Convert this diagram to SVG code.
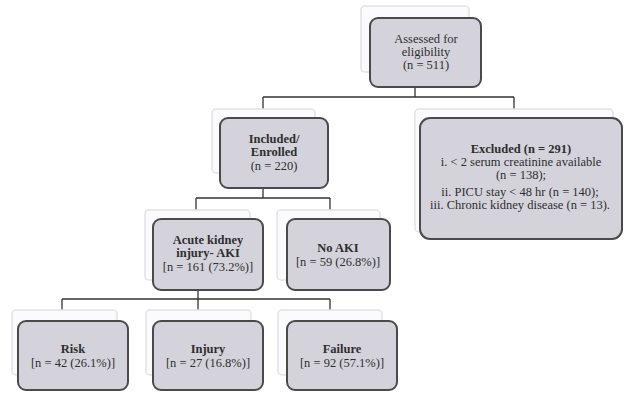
<svg xmlns="http://www.w3.org/2000/svg" width="624" height="395" viewBox="0 0 624 395">
<style>
.back{fill:#fbfbfd;stroke:#e2e2e6;stroke-width:1.5}
.front{fill:#d4d3dc;stroke:#4a4a4a;stroke-width:2}
.t{font-family:"Liberation Serif","Times New Roman",serif;font-size:12.5px;fill:#2e2e2e;text-anchor:middle}
.b{font-weight:bold}
.c{fill:none;stroke:#333;stroke-width:1.3}
</style>
<rect width="624" height="395" fill="#ffffff"/>
<g id="connectors">
<path class="c" d="M415 87V97M263 97H514M263 97V109M514 97V109"/>
<path class="c" d="M263 188V198M196 198H330M196 198V210M330 198V210"/>
<path class="c" d="M198 290V299M62 299H330M62 299V310M198 299V310M330 299V310"/>
</g>
<g id="assessed">
<rect class="back" x="361" y="6" width="108" height="66" rx="4"/>
<rect class="front" x="370" y="18" width="111" height="69" rx="8"/>
<text class="t" x="426" y="43">Assessed for</text>
<text class="t" x="426" y="56">eligibility</text>
<text class="t" x="426" y="69">(n = 511)</text>
</g>
<g id="included">
<rect class="back" x="212" y="109" width="103" height="64" rx="4"/>
<rect class="front" x="220" y="118" width="108" height="70" rx="8"/>
<text class="t b" x="274" y="143">Included/</text>
<text class="t b" x="274" y="156">Enrolled</text>
<text class="t" x="274" y="170">(n = 220)</text>
</g>
<g id="excluded">
<rect class="back" x="415" y="109" width="198" height="123" rx="4"/>
<rect class="front" x="420" y="118" width="202" height="121" rx="10"/>
<text class="t b" x="521" y="153">Excluded (n = 291)</text>
<text class="t" x="521" y="166">i. &lt; 2 serum creatinine available</text>
<text class="t" x="521" y="179">(n = 138);</text>
<text class="t" x="520" y="196">ii. PICU stay &lt; 48 hr (n = 140);</text>
<text class="t" x="520" y="209">iii. Chronic kidney disease (n = 13).</text>
</g>
<g id="aki">
<rect class="back" x="145" y="210" width="105" height="70" rx="4"/>
<rect class="front" x="153" y="219" width="110" height="71" rx="8"/>
<text class="t b" x="208" y="244">Acute kidney</text>
<text class="t b" x="208" y="257">injury- AKI</text>
<text class="t" x="208" y="271">[n = 161 (73.2%)]</text>
</g>
<g id="noaki">
<rect class="back" x="277" y="210" width="103" height="70" rx="4"/>
<rect class="front" x="287" y="219" width="103" height="71" rx="8"/>
<text class="t b" x="338" y="252">No AKI</text>
<text class="t" x="338" y="266">[n = 59 (26.8%)]</text>
</g>
<g id="risk">
<rect class="back" x="12" y="310" width="105" height="65" rx="4"/>
<rect class="front" x="18" y="321" width="110" height="69" rx="8"/>
<text class="t b" x="73" y="353">Risk</text>
<text class="t" x="73" y="367">[n = 42 (26.1%)]</text>
</g>
<g id="injury">
<rect class="back" x="146" y="310" width="105" height="65" rx="4"/>
<rect class="front" x="153" y="321" width="110" height="69" rx="8"/>
<text class="t b" x="208" y="353">Injury</text>
<text class="t" x="208" y="367">[n = 27 (16.8%)]</text>
</g>
<g id="failure">
<rect class="back" x="278" y="310" width="104" height="65" rx="4"/>
<rect class="front" x="287" y="321" width="110" height="69" rx="8"/>
<text class="t b" x="342" y="353">Failure</text>
<text class="t" x="342" y="367">[n = 92 (57.1%)]</text>
</g>
</svg>
